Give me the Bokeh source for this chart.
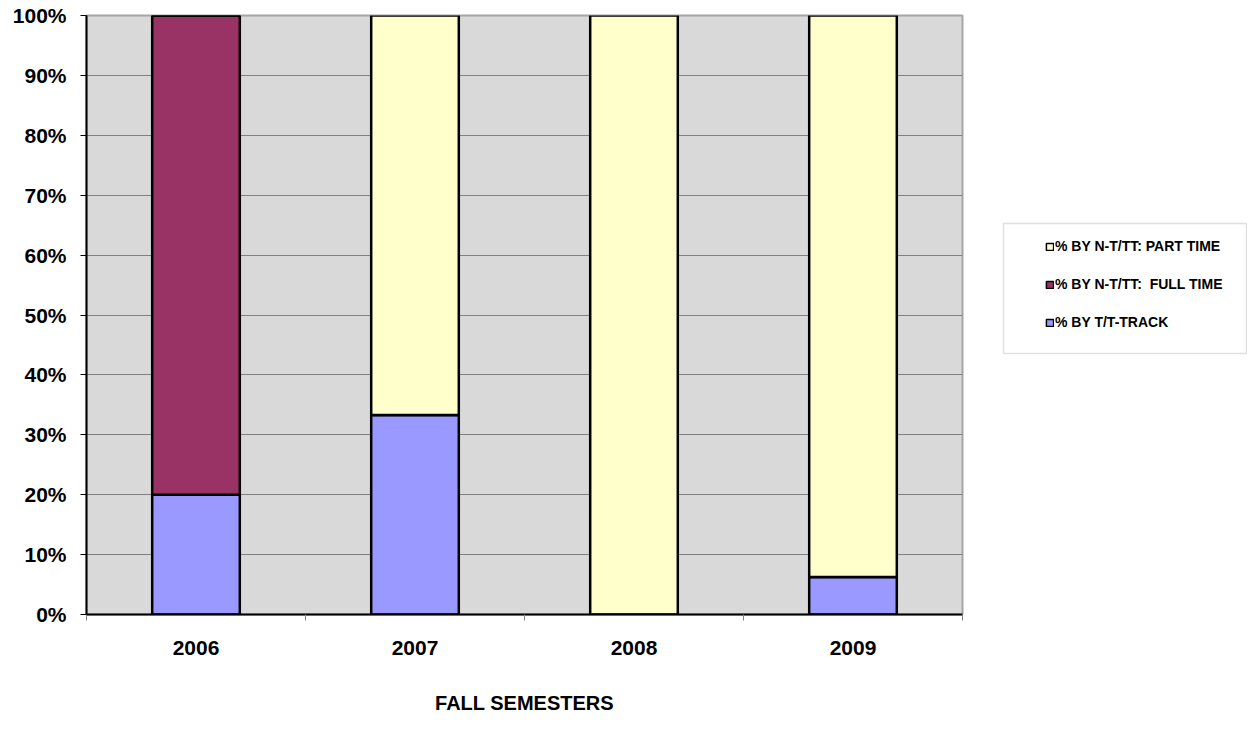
from bokeh.plotting import figure
from bokeh.models import (ColumnDataSource, FixedTicker, Legend, LegendItem,
                          Range1d, BoxAnnotation)
from bokeh.layouts import row
from bokeh.embed import file_html
from bokeh.resources import INLINE

years = ["2006", "2007", "2008", "2009"]
tt_track = [20.0, 33.3, 0.0, 6.25]
nt_full = [80.0, 0.0, 0.0, 0.0]
nt_part = [0.0, 66.7, 100.0, 93.75]
series_names = ["% BY T/T-TRACK", "% BY N-T/TT:  FULL TIME", "% BY N-T/TT: PART TIME"]
colors = ["#9999ff", "#993366", "#ffffcc"]
y_ticks = [0, 10, 20, 30, 40, 50, 60, 70, 80, 90, 100]

FONT = "Liberation Sans"
H = 738
TOP = 15
BOTTOM = 614
W1 = 970
W2 = 277
xs = list(range(len(years)))
src = ColumnDataSource(dict(x=xs, tt=tt_track, ft=nt_full, pt=nt_part))
stack_cols = ["tt", "ft", "pt"]

p = figure(width=W1, height=H, output_backend="svg", toolbar_location=None,
           x_range=Range1d(-0.5, len(years) - 0.5), y_range=Range1d(0, 100),
           min_border_left=86, min_border_top=TOP, min_border_right=8,
           min_border_bottom=H - BOTTOM)
p.background_fill_color = "#d9d9d9"
p.border_fill_color = "white"
p.outline_line_color = "#a6a6a6"
p.outline_line_width = 2

p.vbar_stack(stack_cols, x="x", width=0.4, source=src,
             fill_color=colors, line_color="black", line_width=2.5)

p.xgrid.visible = False
p.ygrid.grid_line_color = "#808080"
p.ygrid.grid_line_width = 1
p.ygrid.ticker = FixedTicker(ticks=y_ticks)

p.yaxis.ticker = FixedTicker(ticks=y_ticks)
p.yaxis.major_label_overrides = {t: f"{t}%" for t in y_ticks}
p.yaxis.minor_tick_line_color = None
p.yaxis.major_tick_in = 0
p.yaxis.major_tick_out = 6
p.yaxis.major_label_standoff = 14
p.yaxis.axis_line_color = "black"
p.yaxis.axis_line_width = 2

p.xaxis.ticker = FixedTicker(ticks=xs, minor_ticks=[i - 0.5 for i in range(len(years) + 1)])
p.xaxis.major_label_overrides = {i: y for i, y in enumerate(years)}
p.xaxis.major_tick_line_color = None
p.xaxis.major_tick_in = 0
p.xaxis.major_tick_out = 6
p.xaxis.minor_tick_in = 0
p.xaxis.minor_tick_out = 6
p.xaxis.minor_tick_line_color = "#808080"
p.xaxis.major_label_standoff = 20
p.xaxis.axis_line_color = "black"
p.xaxis.axis_line_width = 2
p.xaxis.axis_label = "FALL SEMESTERS"
p.xaxis.axis_label_standoff = 34

for ax in (p.xaxis[0], p.yaxis[0]):
    ax.major_label_text_font = FONT
    ax.major_label_text_font_style = "bold"
    ax.major_label_text_font_size = "21px"
    ax.major_label_text_color = "black"
    ax.axis_label_text_font = FONT
    ax.axis_label_text_font_style = "bold"
    ax.axis_label_text_font_size = "20px"
    ax.axis_label_text_color = "black"

# legend panel: data coordinates equal page pixels (y measured from top)
q = figure(width=W2, height=H, output_backend="svg", toolbar_location=None,
           x_range=Range1d(W1, W1 + W2), y_range=Range1d(BOTTOM, TOP),
           x_axis_location=None, y_axis_location=None,
           min_border_left=0, min_border_right=0,
           min_border_top=TOP, min_border_bottom=H - BOTTOM)
q.outline_line_color = None
q.xgrid.visible = False
q.ygrid.visible = False
q.background_fill_color = "white"
q.border_fill_color = "white"

proxies = q.vbar_stack(stack_cols, x="x", width=0.4, source=src,
                       fill_color=colors, line_color="black", line_width=1.5)
for rr in proxies:
    rr.visible = False

q.add_layout(BoxAnnotation(left=1003, right=W1 + W2 - 1, top=223, bottom=353,
                           fill_color="white", fill_alpha=1.0,
                           line_color="#999999", line_width=1.5))

items = [LegendItem(label=series_names[i], renderers=[proxies[i]]) for i in (2, 1, 0)]
legend = Legend(items=items, location=(1045 - W1, BOTTOM - 330), orientation="vertical",
                label_text_font=FONT, label_text_font_style="bold",
                label_text_font_size="14px", label_text_color="black",
                glyph_width=9, glyph_height=9, label_standoff=1,
                label_height=16, spacing=22, padding=0, margin=0,
                border_line_color=None, background_fill_alpha=0.0)
q.add_layout(legend, "center")

layout = row(p, q, spacing=0)
open("out.html", "w").write(file_html(layout, INLINE))
